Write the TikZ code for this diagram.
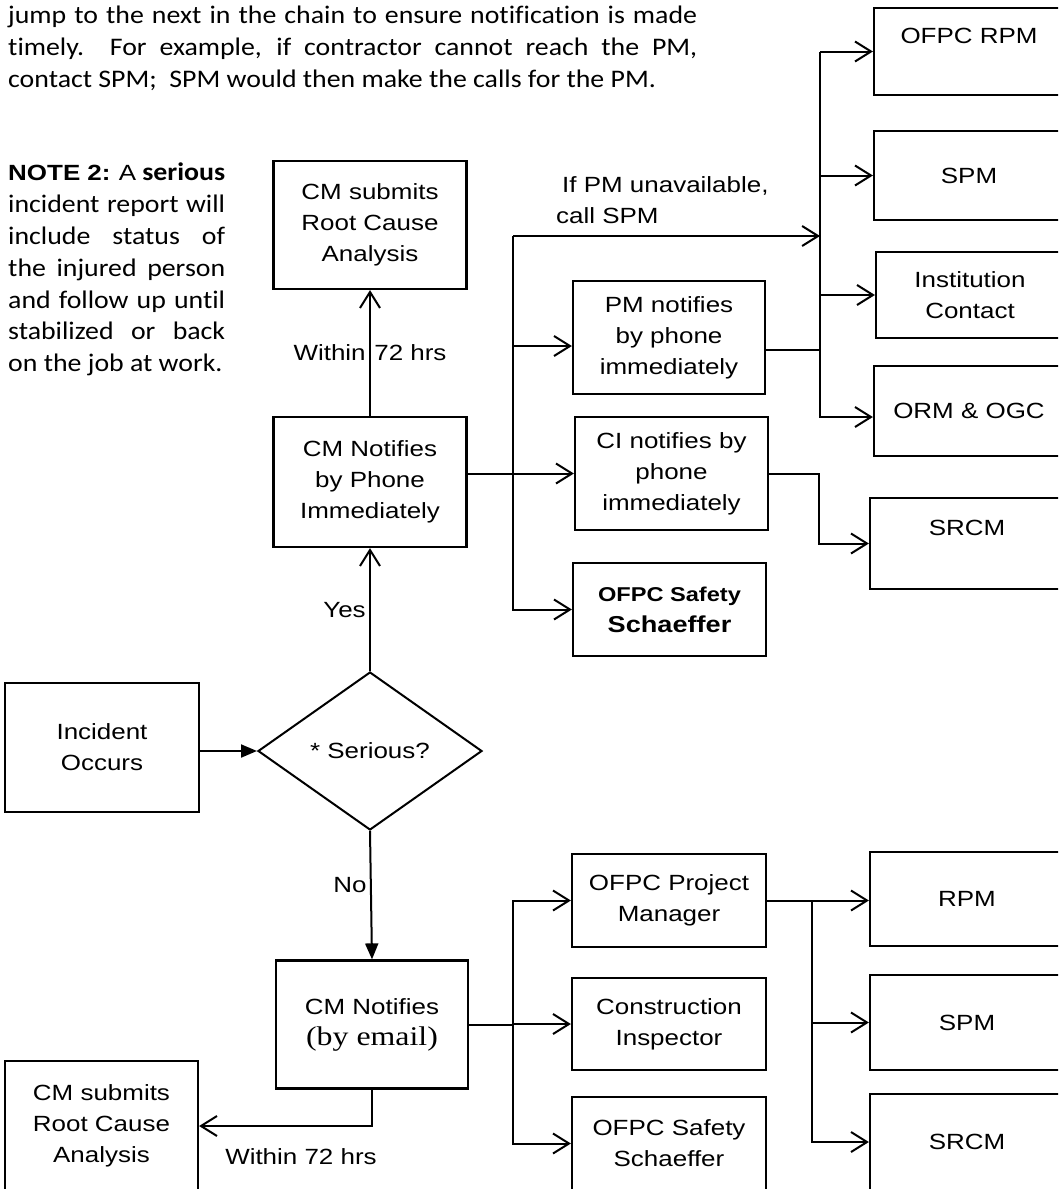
\documentclass[tikz,border=0pt]{standalone}
\usepackage{fontspec}
\setmainfont[Ligatures=CommonOff]{Carlito}
\newfontfamily\arialfont[FakeStretch=1.18]{Liberation Sans}
\newfontfamily\timesfont[FakeStretch=1.18]{Liberation Serif}
\newfontfamily\califont[FakeStretch=1.1,Ligatures=CommonOff]{Carlito}
\usepackage{tikz}
\usetikzlibrary{shapes.geometric,arrows.meta,positioning}

\begin{document}
\begin{tikzpicture}[
			x = 1pt, y = -1pt,
			every node/.style = {font=\arialfont\fontsize{22}{31}\selectfont},
			box/.style = {draw, line width=2.2pt, align=center, inner sep=0pt},
			midbox/.style = {box, minimum width=193pt, minimum height=128pt},
			sidebox/.style = {box, minimum width=193pt, minimum height=113pt},
			endbox/.style = {box, minimum width=190pt, minimum height=90pt},
			con/.style = {line width=2pt},
			arr/.style = {con, -{Straight Barb[length=16pt,width=20pt]}},
			farr/.style = {con, -{Triangle[length=16pt,width=13pt]}},
			note/.style = {font=\califont\fontsize{25.3}{31.8}\selectfont, align=justify, inner sep=0pt, anchor=north west}
		]

			\useasboundingbox (0,0) rectangle (1058,1189);
			\clip (0,0) rectangle (1058,1189);

			\node[note, text width=689pt] (intro) at (8,6) {jump to the next in the chain to ensure notification is made\linebreak timely.\ \ For example, if contractor cannot reach the PM,\linebreak contact SPM;\ \ SPM would then make the calls for the PM.};
			\node[note, text width=217pt] (note2) at (8,163) {{\arialfont\fontsize{22}{31.8}\selectfont\bfseries NOTE 2:} {\arialfont\fontsize{22}{31.8}\selectfont A} \textbf{serious}\linebreak incident report will\linebreak include status of\linebreak the injured person\linebreak and follow up until\linebreak stabilized or back\linebreak on the job at work.};

			\node[midbox] (rcaTop) at (370,225) {CM submits\\Root Cause\\Analysis};
			\node[midbox, minimum height=130pt] (cmPhone) at (370,482) {CM Notifies\\by Phone\\Immediately};
			\node[midbox, minimum width=194pt, minimum height=129pt] (incident) at (102,747.5) {Incident\\Occurs};
			\node[draw, line width=2pt, diamond, aspect=1.42, minimum width=224pt, minimum height=158pt, inner sep=0pt] (serious) at (370,751) {* Serious?};
			\node[midbox, minimum width=192pt] (cmEmail) at (372,1024.5) {\fontsize{22}{34}\selectfont CM Notifies\\{\timesfont\fontsize{27}{34}\selectfont (by email)}};
			\node[midbox, minimum height=130pt] (rcaBot) at (101.5,1126) {CM submits\\Root Cause\\Analysis};

			\node[sidebox, minimum width=192pt] (pmPhone) at (669,337.5) {PM notifies\\by phone\\immediately};
			\node[sidebox] (ciPhone) at (671.5,473.5) {CI notifies by\\phone\\immediately};
			\node[sidebox, minimum height=93pt] (safetyTop) at (669.5,609.5) {\bfseries\fontsize{20}{29}\selectfont OFPC Safety\\\bfseries\fontsize{23}{29}\selectfont Schaeffer};

			\node[endbox, minimum height=87pt] (ofpcRpm) at (969,51.5) {OFPC RPM\\\mbox{}};
			\node[endbox, minimum height=89pt] (spmTop) at (969,175.5) {SPM};
			\node[endbox, minimum width=188pt, minimum height=86pt] (instContact) at (970,295) {Institution\\Contact};
			\node[endbox] (ormOgc) at (969,411) {ORM \& OGC};
			\node[endbox, minimum width=194pt, minimum height=91pt] (srcmTop) at (967,543.5) {SRCM\\\mbox{}};

			\node[sidebox, minimum width=194pt, minimum height=93pt] (pmBot) at (669,900.5) {OFPC Project\\Manager};
			\node[sidebox, minimum width=194pt, minimum height=92pt] (ciBot) at (669,1024) {Construction\\Inspector};
			\node[sidebox, minimum width=194pt, minimum height=93pt] (safetyBot) at (669,1143.5) {OFPC Safety\\Schaeffer};

			\node[endbox, minimum width=194pt, minimum height=94pt] (rpmBot) at (967,899) {RPM};
			\node[endbox, minimum width=194pt, minimum height=95pt] (spmBot) at (967,1022.5) {SPM};
			\node[endbox, minimum width=194pt, minimum height=96pt] (srcmBot) at (967,1142) {SRCM};

			\coordinate (splitA) at (513,236);
			\coordinate (splitB) at (820,52);
			\coordinate (splitC) at (513,900);
			\coordinate (splitD) at (812,898);
			\coordinate (pmIn) at ([yshift=-8.5pt]pmPhone.west);
			\coordinate (pmOut) at ([yshift=-12.5pt]pmPhone.east);
			\coordinate (ormIn) at ([yshift=-6pt]ormOgc.west);

			\draw[farr] (incident.east |- serious.west) -- (serious.west);
			\draw[arr] (serious.north) -- node[left]{Yes} (cmPhone.south);
			\draw[arr] (cmPhone.north) -- node[left]{Within} node[right]{72 hrs} (rcaTop.south);
			\draw[farr] (serious.south) -- node[pos=.42, left]{No} (cmEmail.north);
			\draw[arr] (cmEmail.south) |- (rcaBot.east);
			\node (within) at (301,1157) {Within 72 hrs};

			\draw[arr] (splitA) -- (splitA -| splitB);
			\node[anchor=south west, align=left, inner sep=0pt] (unavail) at (556,224) {\hspace{6pt}If PM unavailable,\\call SPM};
			\draw[arr] (splitA) |- (safetyTop.west);
			\draw[arr] (splitA |- pmIn) -- (pmIn);
			\draw[arr] (cmPhone.east |- ciPhone.west) -- (ciPhone.west);
			\draw[arr] (ciPhone.east) -- ++(50,0) |- (srcmTop.west);

			\draw[con] (pmOut) -- (pmOut -| splitB);
			\draw[arr] (splitB) |- (ormIn);
			\foreach \n in {ofpcRpm,spmTop,instContact}
				\draw[arr] (splitB |- \n.west) -- (\n.west);

			\draw[con] (cmEmail.east) -- (cmEmail.east -| splitC);
			\draw[arr] (splitC) |- (safetyBot.west);
			\foreach \n in {pmBot,ciBot}
				\draw[arr] (splitC |- \n.west) -- (\n.west);

			\draw[arr] (pmBot.east) -- (pmBot.east -| rpmBot.west);
			\draw[arr] (splitD |- pmBot.east) |- (srcmBot.west);
			\draw[arr] (splitD |- spmBot.west) -- (spmBot.west);

		\end{tikzpicture}
\end{document}
